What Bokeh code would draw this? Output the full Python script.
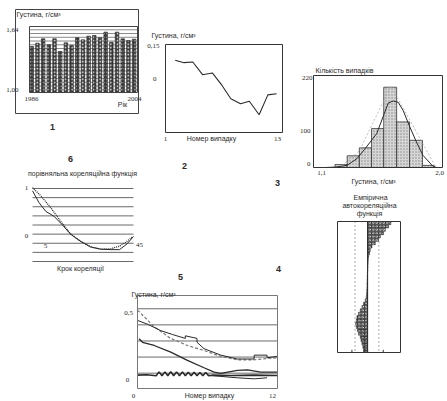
from bokeh.plotting import figure
from bokeh.models import Label, Range1d
from bokeh.embed import file_html
from bokeh.resources import INLINE

# ---------------- data ----------------
# panel 1: density by year
years = list(range(1986, 2005))
density_by_year = [1.462, 1.497, 1.544, 1.480, 1.544, 1.409, 1.501, 1.473, 1.555, 1.533,
                   1.572, 1.579, 1.555, 1.615, 1.508, 1.615, 1.544, 1.526, 1.540]
grid1 = [1.00, 1.04, 1.08, 1.12, 1.16, 1.20, 1.24, 1.28, 1.32, 1.36, 1.40, 1.44, 1.48,
         1.52, 1.56, 1.60, 1.64]

# panel 2: density deviation by case number
case_no = [2.0, 2.9, 3.8, 4.8, 5.8, 6.8, 7.7, 8.7, 9.6, 10.6, 11.5, 12.4]
density_dev = [0.081, 0.070, 0.073, 0.015, 0.023, -0.034, -0.095, -0.118, -0.106, -0.168, -0.077, -0.072]

# panel 3: histogram of density
hist_left = [1.25, 1.335, 1.42, 1.505, 1.59, 1.68, 1.77, 1.86]
hist_right = [1.335, 1.42, 1.505, 1.59, 1.68, 1.77, 1.86, 1.94]
hist_count = [7, 28, 47, 93, 192, 109, 65, 5]
fit_x = [1.18, 1.252, 1.333, 1.403, 1.46, 1.541, 1.594, 1.621, 1.656, 1.691, 1.726, 1.772, 1.818, 1.864, 1.933, 1.96]
fit_y = [0, 1, 5, 21, 45, 81, 129, 154, 159, 156, 136, 97, 61, 29, 3, 0]
poly_x = [1.30, 1.42, 1.64, 1.95]
poly_y = [5, 40, 195, 3]

# panel 6: comparative correlation function
corr_emp_x = [0, 2.9, 5.9, 9.6, 12.6, 17, 21.5, 25.9, 30.4, 34.8, 38.8, 42.2, 45]
corr_emp_y = [0.95, 0.69, 0.50, 0.39, 0.24, 0.0, -0.16, -0.28, -0.33, -0.34, -0.34, -0.21, -0.05]
corr_mod_x = [0, 3.7, 8.1, 12.6, 17, 21.5, 25.9, 30.4, 34.8, 38.5, 41.5, 44.5]
corr_mod_y = [1.02, 0.84, 0.58, 0.28, 0.0, -0.16, -0.28, -0.33, -0.32, -0.27, -0.18, -0.06]
grid6 = [-0.6, -0.4, -0.2, 0.0, 0.2, 0.4, 0.6, 0.8, 1.0]

# panel 4: empirical autocorrelation function
acf = [0.745, 0.67, 0.565, 0.51, 0.405, 0.35, 0.245, 0.14, 0.085, 0.064,
       0.03, 0.02, 0.015, 0.01, 0.005, -0.005, -0.01, -0.015, -0.02, -0.02, -0.025, -0.03,
       -0.043, -0.075, -0.128, -0.18, -0.234, -0.29, -0.34, -0.36, -0.38, -0.36, -0.32,
       -0.29, -0.234, -0.21, -0.18, -0.15, -0.128]
acf_lag = list(range(1, len(acf) + 1))
acf_bounds = [-0.40, 0.36]
acf_ticks = [-0.5, 0.0, 0.5]

# panel 5: density curves by case number
x5_dash = [0, 1.43, 2.85, 4.28, 5.7, 7.14, 8.57, 10, 12]
y5_dash = [0.49, 0.36, 0.27, 0.215, 0.176, 0.13, 0.104, 0.104, 0.12]
x5_a = [0, 0.86, 2.0, 3.0, 4.1, 4.1, 5.1, 5.1, 5.7, 7.14, 8.57, 10.0, 10.0, 11.1, 11.1, 12]
y5_a = [0.41, 0.38, 0.33, 0.30, 0.27, 0.29, 0.27, 0.24, 0.19, 0.14, 0.11, 0.11, 0.14, 0.14, 0.12, 0.13]
x5_b = [0.14, 0.43, 1.43, 2.85, 4.28, 5.7, 6.57, 7.14, 8.57, 9.43, 10.57, 12]
y5_b = [0.267, 0.24, 0.215, 0.163, 0.099, 0.042, 0.008, -0.002, 0.021, 0.026, 0.008, 0.008]
x5_c = [0, 0.8, 1.6, 1.85, 2.1, 2.35, 2.6, 2.85, 3.1, 3.35, 3.6, 3.85, 4.1, 4.35, 4.6,
        4.85, 5.1, 5.35, 5.6, 5.85, 6.1, 6.5, 8, 10, 12]
y5_c = [-0.015, -0.012, -0.02, 0.01, -0.02, 0.01, -0.02, 0.012, -0.02, 0.01, -0.02, 0.01, -0.02,
        0.008, -0.02, 0.008, -0.02, 0.005, -0.02, 0.005, -0.02, -0.015, -0.018, -0.015, -0.018]
x5_d = [6.0, 7.14, 8.57, 10, 11.1]
y5_d = [-0.015, -0.025, -0.036, -0.044, -0.036]
grid5 = [0.0, 0.125, 0.25, 0.375, 0.5]

SANS = "Liberation Sans"
SERIF = "Liberation Serif"
INK = "#2a2a2a"

W, H = 446, 400
OX, OY = 0, 0  # the page template draws the canvas at the window's top-left corner

# one page-sized figure; main ranges are page pixel coordinates (y downwards)
p = figure(width=W, height=H, x_range=Range1d(OX, OX + W), y_range=Range1d(OY + H, OY),
           output_backend="svg", toolbar_location=None,
           x_axis_location=None, y_axis_location=None,
           min_border=0, min_border_left=0, min_border_right=0,
           min_border_top=0, min_border_bottom=0,
           outline_line_color=None, background_fill_color="white")
p.grid.visible = False


def panel(name, frame, xr, yr):
    """Create extra ranges so that data range xr/yr fills page pixel box `frame`."""
    fl, ft, fr, fb = frame
    x0, x1 = xr
    y0, y1 = yr  # y0 at bottom edge, y1 at top edge
    kx = (x1 - x0) / (fr - fl)
    xs = x0 - (fl - OX) * kx
    p.extra_x_ranges[name] = Range1d(xs, xs + W * kx)
    ky = (y1 - y0) / (fb - ft)
    ys = y0 - (OY + H - fb) * ky
    p.extra_y_ranges[name] = Range1d(ys, ys + H * ky)
    return dict(x_range_name=name, y_range_name=name)


def frame_box(r, xr, yr, color="#333", width=1.0):
    p.quad(left=[xr[0]], right=[xr[1]], bottom=[yr[0]], top=[yr[1]],
           fill_color=None, line_color=color, line_width=width, **r)


def hgrid(r, xr, ticks, color="#444", width=0.8):
    p.segment(x0=[xr[0]] * len(ticks), x1=[xr[1]] * len(ticks), y0=ticks, y1=ticks,
              line_color=color, line_width=width, **r)


def put(px, py, text, size="7px", font=SANS, align="left", bold=False, color=INK):
    p.add_layout(Label(x=px, y=py, text=text, text_font=font, text_font_size=size,
                       text_align=align, text_baseline="middle", text_color=color,
                       text_font_style="bold" if bold else "normal"))


# ---------- panel 1 ----------
# outer box of the inset (page pixels)
p.quad(left=[15], right=[138], top=[9], bottom=[113], fill_color=None,
       line_color="#444", line_width=1.0)
X1, Y1 = (1985.6, 2004.6), (0.971, 1.675)
r1 = panel("p1", (29, 26, 137, 92), X1, Y1)
hgrid(r1, X1, grid1, color="#555", width=0.7)
p.vbar(x=years, top=density_by_year, bottom=Y1[0], width=0.62,
       fill_color="#3a3a3a", line_color="#222", line_width=0.6,
       hatch_pattern="dot", hatch_color="white", hatch_scale=3.5, hatch_weight=1.2, **r1)
frame_box(r1, X1, Y1, color="#444")
put(16, 14, "Густина, г/см³")
put(18, 29, "1,64", font=SERIF, align="right")
put(18, 89, "1,00", font=SERIF, align="right")
put(31, 98, "1986", font=SERIF, align="center")
put(134, 98, "2004", font=SERIF, align="center")
put(122, 104, "Рік", align="center")
put(52, 126, "1", size="9px", bold=True, align="center")

# ---------- panel 2 ----------
X2, Y2 = (1, 13), (-0.249, 0.153)
r2 = panel("p2", (165, 44, 282, 132), X2, Y2)
frame_box(r2, X2, Y2)
p.line(case_no, density_dev, line_color=INK, line_width=1.1, **r2)
put(151, 35, "Густина, г/см³")
put(159, 45, "0,15", font=SERIF, align="right")
put(156, 78, "0", font=SERIF, align="right")
put(165, 138, "1", font=SERIF, align="center")
put(277, 138, "13", font=SERIF, align="center")
put(211, 138, "Номер випадку", align="center")
put(184, 165, "2", size="9px", bold=True, align="center")

# ---------- panel 3 ----------
X3, Y3 = (1.1, 2.0), (0, 220)
r3 = panel("p3", (313, 75, 442, 167), X3, Y3)
p.quad(left=hist_left, right=hist_right, top=hist_count, bottom=0,
       fill_color="#d6d6d6", line_color="#333", line_width=0.8,
       hatch_pattern="dot", hatch_color="#888", hatch_scale=3, hatch_weight=0.8, **r3)
p.line(poly_x, poly_y, line_color="#aaa", line_width=0.8, line_dash="2 2", **r3)
p.line(fit_x, fit_y, line_color=INK, line_width=1.0, **r3)
frame_box(r3, X3, Y3)
put(315, 70, "Кількість випадків")
put(312, 77, "220", font=SERIF, align="right")
put(310, 130, "100", font=SERIF, align="right")
put(310, 163, "0", font=SERIF, align="right")
put(321, 172, "1,1", font=SERIF, align="center")
put(439, 172, "2,0", font=SERIF, align="center")
put(373, 181, "Густина, г/см³", align="center")
put(277, 182, "3", size="9px", bold=True, align="center")

# ---------- panel 6 ----------
X6, Y6 = (0, 45), (-0.6, 1.0)
r6 = panel("p6", (32, 188, 133, 261), X6, Y6)
hgrid(r6, X6, grid6)
p.line(corr_emp_x, corr_emp_y, line_color=INK, line_width=1.0, **r6)
p.line(corr_mod_x, corr_mod_y, line_color=INK, line_width=1.3, line_dash="1 1", **r6)
put(70, 158, "6", size="9px", bold=True, align="center")
put(82, 173, "порівняльна кореляційна функція", align="center")
put(26, 187, "1", font=SERIF, align="center")
put(26, 235, "0", font=SERIF, align="center")
put(45, 245, "5", font=SERIF, align="center")
put(139, 244, "45", font=SERIF, align="center")
put(80, 268, "Крок кореляції", align="center")

# ---------- panel 4 ----------
X4, Y4 = (-0.96, 1.05), (39.6, 0.5)
r4 = panel("p4", (337, 221, 400, 352), X4, Y4)
p.hbar(y=acf_lag, right=acf, left=0, height=0.85,
       fill_color="#3a3a3a", line_color="#222", line_width=0.5,
       hatch_pattern="ring", hatch_color="white", hatch_scale=3.5, hatch_weight=0.8, **r4)
p.segment(x0=[0], x1=[0], y0=[Y4[1]], y1=[Y4[0]], line_color=INK, line_width=1.0, **r4)
p.segment(x0=acf_bounds, x1=acf_bounds, y0=[Y4[1]] * 2, y1=[Y4[0]] * 2,
          line_color="#555", line_width=1.0, line_dash="1 3", **r4)
p.segment(x0=acf_ticks, x1=acf_ticks, y0=[Y4[0]] * 3, y1=[Y4[0] - 0.8] * 3,
          line_color="#333", line_width=1.0, **r4)
frame_box(r4, X4, Y4)
put(370, 197, "Емпірична", align="center")
put(369, 205, "автокореляційна", align="center")
put(369, 213, "функція", align="center")
put(278, 268, "4", size="9px", bold=True, align="center")

# ---------- panel 5 ----------
X5, Y5 = (0, 12), (-0.119, 0.603)
r5 = panel("p5", (137, 295, 277, 388), X5, Y5)
hgrid(r5, X5, grid5)
p.line(x5_dash, y5_dash, line_color="#777", line_width=1.2, line_dash="3 2", **r5)
p.line(x5_a, y5_a, line_color=INK, line_width=1.0, **r5)
p.line(x5_b, y5_b, line_color=INK, line_width=1.3, **r5)
p.line(x5_c, y5_c, line_color=INK, line_width=1.6, **r5)
p.line(x5_d, y5_d, line_color=INK, line_width=1.0, **r5)
frame_box(r5, X5, Y5, color="#777")
put(180, 276, "5", size="9px", bold=True, align="center")
put(131, 294, "Густина, г/см³")
put(128, 312, "0,5", font=SERIF, align="center")
put(127, 379, "0", font=SERIF, align="center")
put(133, 395, "0", font=SERIF, align="center")
put(272, 395, "12", font=SERIF, align="center")
put(209, 395, "Номер випадку", align="center")

open("out.html", "w").write(file_html(p, INLINE))
